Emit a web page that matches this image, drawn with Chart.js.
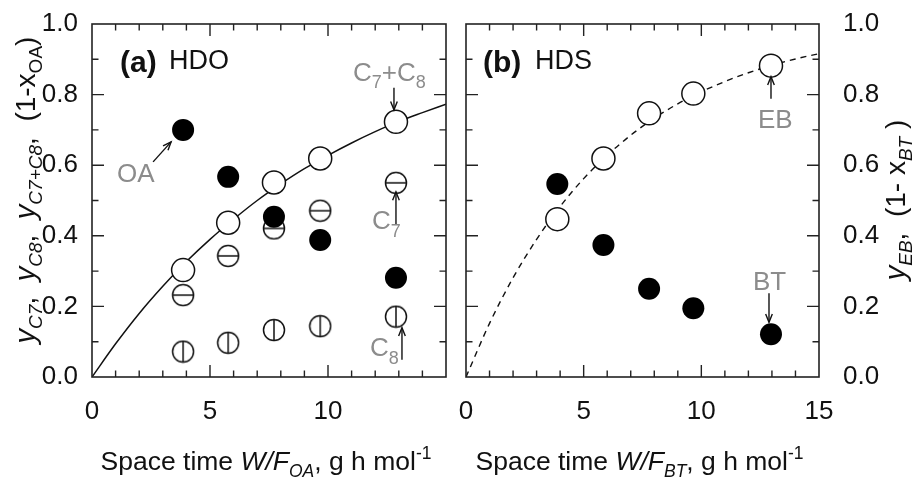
<!DOCTYPE html>
<html>
<head>
<meta charset="utf-8">
<script src="https://cdn.jsdelivr.net/npm/chart.js@4/dist/chart.umd.min.js"></script>
<style>
  html, body { margin: 0; padding: 0; background: #fff; overflow: hidden; }
  #wrap { position: relative; width: 915px; height: 482px; }
  #ca { position: absolute; left: 0; top: 0; }
  #cb { position: absolute; left: 455px; top: 0; }
</style>
</head>
<body>
<div id="wrap">
  <canvas id="ca" width="455" height="482"></canvas>
  <canvas id="cb" width="460" height="482"></canvas>
</div>
<script>
// ---- (a) HDO: octanoic acid conversion and C7 / C8 yields ----
const spaceTimeA = [3.86, 5.77, 7.71, 9.67, 12.88];
const yOA   = [0.700, 0.567, 0.454, 0.388, 0.281];
const yC7C8 = [0.303, 0.437, 0.551, 0.619, 0.723];
const yC7   = [0.232, 0.343, 0.421, 0.471, 0.550];
const yC8   = [0.072, 0.097, 0.133, 0.144, 0.171];

// ---- (b) HDS: benzothiophene conversion and EB yield ----
const spaceTimeB = [3.88, 5.84, 7.78, 9.66, 12.96];
const yEB = [0.447, 0.619, 0.747, 0.803, 0.882];
const yBT = [0.547, 0.374, 0.250, 0.195, 0.121];

// model curves, sampled at integer space times
const curveX = [0, 1, 2, 3, 4, 5, 6, 7, 8, 9, 10, 11, 12, 13, 14, 15];
const curveA = [0, 0.094, 0.180, 0.257, 0.327, 0.390, 0.447, 0.500, 0.547, 0.590, 0.628, 0.663, 0.695, 0.724, 0.749, 0.773];
const curveB = [0, 0.152, 0.281, 0.390, 0.483, 0.562, 0.628, 0.685, 0.733, 0.774, 0.808, 0.837, 0.862, 0.883, 0.901, 0.916];

// axis ticks
const xMajor = [0, 5, 10, 15];
const yMajor = [0.0, 0.2, 0.4, 0.6, 0.8, 1.0];

const FONT = '"Liberation Sans", Arial, Helvetica, sans-serif';
const INK = '#111';
const GREY = '#8c8c8c';

const pts = (xs, ys) => xs.map((x, i) => ({ x: x, y: ys[i] }));

// circle marker with a horizontal or vertical bar through it
function barCircle(r, vertical) {
  const lw = 1.5, s = Math.ceil(2 * r + 2 * lw);
  const c = document.createElement('canvas');
  c.width = s; c.height = s;
  const g = c.getContext('2d');
  const m = s / 2;
  g.beginPath(); g.arc(m, m, r, 0, Math.PI * 2);
  g.fillStyle = '#fff'; g.fill();
  g.lineWidth = lw; g.strokeStyle = INK; g.stroke();
  g.beginPath();
  if (vertical) { g.moveTo(m, m - r); g.lineTo(m, m + r); }
  else { g.moveTo(m - r, m); g.lineTo(m + r, m); }
  g.stroke();
  return c;
}
const markC7 = barCircle(10.5, false);
const markC8 = barCircle(10.5, true);

// draw a run of text pieces (with sub/superscripts) along the baseline
function rich(ctx, parts, x, y, align) {
  let w = 0;
  parts.forEach(p => {
    ctx.font = (p.st || '') + ' ' + p.px + 'px ' + FONT;
    p.w = ctx.measureText(p.t).width; w += p.w;
  });
  let cx = align === 'center' ? x - w / 2 : (align === 'right' ? x - w : x);
  ctx.textAlign = 'left'; ctx.textBaseline = 'alphabetic';
  parts.forEach(p => {
    ctx.font = (p.st || '') + ' ' + p.px + 'px ' + FONT;
    ctx.fillText(p.t, cx, y + (p.dy || 0));
    cx += p.w;
  });
}

function arrow(ctx, x1, y1, x2, y2) {
  const a = Math.atan2(y2 - y1, x2 - x1), h = 9, sp = 0.38;
  ctx.save();
  ctx.strokeStyle = INK; ctx.lineWidth = 1.4;
  ctx.beginPath(); ctx.moveTo(x1, y1); ctx.lineTo(x2, y2); ctx.stroke();
  ctx.beginPath();
  ctx.moveTo(x2 - h * Math.cos(a - sp), y2 - h * Math.sin(a - sp));
  ctx.lineTo(x2, y2);
  ctx.lineTo(x2 - h * Math.cos(a + sp), y2 - h * Math.sin(a + sp));
  ctx.stroke();
  ctx.restore();
}

// box frame with inward ticks on all four sides
const framePlugin = {
  id: 'frame',
  afterDatasetsDraw(chart) {
    const { ctx, chartArea: a, scales } = chart;
    ctx.save();
    ctx.strokeStyle = '#222'; ctx.lineWidth = 1.6;
    ctx.strokeRect(a.left, a.top, a.right - a.left, a.bottom - a.top);
    ctx.lineWidth = 1.4;
    ctx.beginPath();
    for (let i = 1; i < 15; i++) {
      const px = scales.x.getPixelForValue(i), L = i % 5 === 0 ? 12 : 6.5;
      ctx.moveTo(px, a.bottom); ctx.lineTo(px, a.bottom - L);
      ctx.moveTo(px, a.top); ctx.lineTo(px, a.top + L);
    }
    for (let i = 1; i < 10; i++) {
      const py = scales.y.getPixelForValue(i / 10), L = i % 2 === 0 ? 12 : 6.5;
      ctx.moveTo(a.left, py); ctx.lineTo(a.left + L, py);
      ctx.moveTo(a.right, py); ctx.lineTo(a.right - L, py);
    }
    ctx.stroke();
    ctx.restore();
  }
};

function xScaleOpts(showLast) {
  return {
    type: 'linear', min: 0, max: 15,
    afterBuildTicks(s) { s.ticks = xMajor.map(v => ({ value: v })); },
    grid: { display: false }, border: { display: false },
    ticks: {
      autoSkip: false, maxRotation: 0, padding: 11, color: INK,
      font: { family: FONT, size: 26 },
      callback: v => (v === 15 && !showLast) ? '' : String(v)
    },
    afterFit(s) { s.height = 105; s.paddingLeft = 0; s.paddingRight = 0; }
  };
}
function yScaleOpts(pos, width, pad) {
  return {
    type: 'linear', position: pos, min: 0, max: 1,
    afterBuildTicks(s) { s.ticks = yMajor.map(v => ({ value: v })); },
    grid: { display: false }, border: { display: false },
    ticks: {
      autoSkip: false, padding: pad, color: INK,
      font: { family: FONT, size: 26 },
      callback: v => v.toFixed(1)
    },
    afterFit(s) { s.width = width; s.paddingTop = 0; s.paddingBottom = 0; }
  };
}

// nudge the layout padding until the plot box sits on the given pixel bounds
function pinArea(chart, box) {
  for (let k = 0; k < 4; k++) {
    const a = chart.chartArea, p = chart.options.layout.padding;
    const dl = box.left - a.left, dr = a.right - box.right;
    const dt = box.top - a.top, db = a.bottom - box.bottom;
    if (Math.abs(dl) + Math.abs(dr) + Math.abs(dt) + Math.abs(db) < 0.3) break;
    p.left = Math.max(0, p.left + dl); p.right = Math.max(0, p.right + dr);
    p.top = Math.max(0, p.top + dt); p.bottom = Math.max(0, p.bottom + db);
    chart.update();
  }
}

const common = {
  responsive: false, animation: false, devicePixelRatio: 1, events: [],
  plugins: { legend: { display: false }, tooltip: { enabled: false } }
};

// ---------- panel (a) ----------
const annotA = {
  id: 'annotA',
  afterDraw(chart) {
    const { ctx, scales: { x, y } } = chart;
    const X = v => x.getPixelForValue(v), Y = v => y.getPixelForValue(v);
    ctx.save();
    ctx.fillStyle = INK;
    rich(ctx, [{ t: '(a)', px: 30, st: 'bold' }], 120, 72, 'left');
    rich(ctx, [{ t: 'HDO', px: 27 }], 169, 69, 'left');

    // labelled arrows
    const oa = [X(spaceTimeA[0]), Y(yOA[0])];
    arrow(ctx, oa[0] - 30, oa[1] + 32, oa[0] - 12, oa[1] + 12);
    const n = spaceTimeA.length - 1;
    const sx = X(spaceTimeA[n]);
    arrow(ctx, sx - 2, Y(yC7C8[n]) - 34, sx - 2, Y(yC7C8[n]) - 12);
    arrow(ctx, sx, Y(yC7[n]) + 42, sx, Y(yC7[n]) + 9);
    arrow(ctx, sx + 6, Y(yC8[n]) + 43, sx + 6, Y(yC8[n]) + 11);

    ctx.fillStyle = GREY;
    rich(ctx, [{ t: 'OA', px: 26 }], 117, 182, 'left');
    rich(ctx, [{ t: 'C', px: 26 }, { t: '7', px: 18, dy: 7 }, { t: '+C', px: 26 }, { t: '8', px: 18, dy: 7 }], 353, 81, 'left');
    rich(ctx, [{ t: 'C', px: 26 }, { t: '7', px: 18, dy: 8 }], 372, 229, 'left');
    rich(ctx, [{ t: 'C', px: 26 }, { t: '8', px: 18, dy: 8 }], 370, 356, 'left');

    // axis titles
    ctx.fillStyle = INK;
    const a = chart.chartArea;
    rich(ctx, [
      { t: 'Space time ', px: 26.5 }, { t: 'W/F', px: 26.5, st: 'italic' },
      { t: 'OA', px: 17.5, st: 'italic', dy: 7 }, { t: ', g h mol', px: 26.5 },
      { t: '-1', px: 17.5, dy: -11 }
    ], (a.left + a.right) / 2 - 3, 470, 'center');

    ctx.translate(35, 190);
    ctx.rotate(-Math.PI / 2);
    rich(ctx, [
      { t: 'y', px: 29, st: 'italic' }, { t: 'C7', px: 19, st: 'italic', dy: 7 }, { t: ',  ', px: 28 },
      { t: 'y', px: 29, st: 'italic' }, { t: 'C8', px: 19, st: 'italic', dy: 7 }, { t: ',  ', px: 28 },
      { t: 'y', px: 29, st: 'italic' }, { t: 'C7+C8', px: 19, st: 'italic', dy: 7 }, { t: ',  ', px: 28 },
      { t: '(1-x', px: 28 }, { t: 'OA', px: 19, dy: 7 }, { t: ')', px: 28 }
    ], 0, 0, 'center');
    ctx.restore();
  }
};

const chartA = new Chart(document.getElementById('ca'), {
  type: 'scatter',
  data: {
    datasets: [
      { data: pts(curveX, curveA), showLine: true, pointRadius: 0, borderColor: INK, borderWidth: 1.5,
        cubicInterpolationMode: 'monotone', order: 10 },
      { data: pts(spaceTimeA, yC8), pointStyle: markC8, order: 5 },
      { data: pts(spaceTimeA, yC7), pointStyle: markC7, order: 4 },
      { data: pts(spaceTimeA, yC7C8), pointStyle: 'circle', pointRadius: 11.5, backgroundColor: '#fff',
        borderColor: INK, borderWidth: 1.5, order: 3 },
      { data: pts(spaceTimeA, yOA), pointStyle: 'circle', pointRadius: 11, backgroundColor: '#000',
        borderColor: '#000', borderWidth: 0, order: 2 }
    ]
  },
  options: Object.assign({}, common, {
    layout: { autoPadding: false, padding: { left: 0, right: 9, top: 24, bottom: 0 } },
    scales: { x: xScaleOpts(false), y: yScaleOpts('left', 92, 6) }
  }),
  plugins: [framePlugin, annotA]
});
pinArea(chartA, { left: 92, right: 446, top: 24, bottom: 377 });

// ---------- panel (b) ----------
const annotB = {
  id: 'annotB',
  afterDraw(chart) {
    const { ctx, scales: { x, y } } = chart;
    const X = v => x.getPixelForValue(v), Y = v => y.getPixelForValue(v);
    ctx.save();
    ctx.fillStyle = INK;
    rich(ctx, [{ t: '(b)', px: 30, st: 'bold' }], 28, 72, 'left');
    rich(ctx, [{ t: 'HDS', px: 27 }], 80, 69, 'left');

    const n = spaceTimeB.length - 1;
    const sx = X(spaceTimeB[n]);
    arrow(ctx, sx, Y(yEB[n]) + 33, sx, Y(yEB[n]) + 11);
    arrow(ctx, sx - 2, Y(yBT[n]) - 41, sx - 2, Y(yBT[n]) - 12);

    ctx.fillStyle = GREY;
    rich(ctx, [{ t: 'EB', px: 26 }], 303, 128, 'left');
    rich(ctx, [{ t: 'BT', px: 26 }], 298, 290, 'left');

    ctx.fillStyle = INK;
    const a = chart.chartArea;
    rich(ctx, [
      { t: 'Space time ', px: 26.5 }, { t: 'W/F', px: 26.5, st: 'italic' },
      { t: 'BT', px: 17.5, st: 'italic', dy: 7 }, { t: ', g h mol', px: 26.5 },
      { t: '-1', px: 17.5, dy: -11 }
    ], (a.left + a.right) / 2 - 3, 470, 'center');

    ctx.translate(450, 200);
    ctx.rotate(-Math.PI / 2);
    rich(ctx, [
      { t: 'y', px: 29, st: 'italic' }, { t: 'EB', px: 19, st: 'italic', dy: 7 }, { t: ',  ', px: 28 },
      { t: '(1- x', px: 28 }, { t: 'BT', px: 19, st: 'italic', dy: 7 }, { t: ' )', px: 28 }
    ], 0, 0, 'center');
    ctx.restore();
  }
};

const chartB = new Chart(document.getElementById('cb'), {
  type: 'scatter',
  data: {
    datasets: [
      { data: pts(curveX, curveB), showLine: true, pointRadius: 0, borderColor: INK, borderWidth: 1.4,
        borderDash: [6, 5], cubicInterpolationMode: 'monotone', order: 10 },
      { data: pts(spaceTimeB, yEB), pointStyle: 'circle', pointRadius: 11.5, backgroundColor: '#fff',
        borderColor: INK, borderWidth: 1.5, order: 3 },
      { data: pts(spaceTimeB, yBT), pointStyle: 'circle', pointRadius: 11, backgroundColor: '#000',
        borderColor: '#000', borderWidth: 0, order: 2 }
    ]
  },
  options: Object.assign({}, common, {
    layout: { autoPadding: false, padding: { left: 11, right: 0, top: 24, bottom: 0 } },
    scales: { x: xScaleOpts(true), y: yScaleOpts('right', 96, 16) }
  }),
  plugins: [framePlugin, annotB]
});
pinArea(chartB, { left: 11, right: 364, top: 24, bottom: 377 });
</script>
</body>
</html>
